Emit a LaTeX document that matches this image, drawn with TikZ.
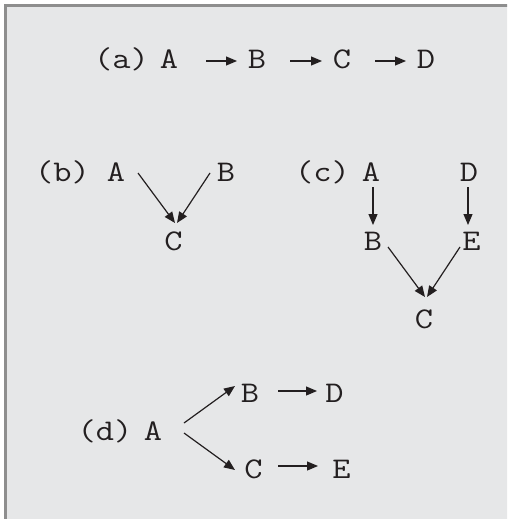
\documentclass[tikz,border=0pt]{standalone}
\usepackage{fontspec}
\setmonofont{Latin Modern Mono}[FakeStretch=1.18]
\usetikzlibrary{arrows.meta}
\definecolor{panelfill}{HTML}{E6E7E8}
\definecolor{panelline}{HTML}{8E8E8E}
\definecolor{ink}{HTML}{231F20}
\tikzset{
  lbl/.style={inner sep=0pt, anchor=base, text=ink, font=\fontsize{30}{30}\selectfont\ttfamily},
  arr/.style={draw=ink, line width=1.2pt, -{Triangle[length=11pt,width=9pt]}},
}
\begin{document}
\begin{tikzpicture}[x=1pt,y=-1pt]
\useasboundingbox (0,0) rectangle (507,519);
\begin{scope}
\clip (0,0) rectangle (507,519);
\draw[fill=panelfill, draw=panelline, line width=3pt] (5.5,5.5) rectangle (520,530);
\end{scope}
% (a)
\node[lbl] (aL) at (121.5,69) {(a)};
\node[lbl] (aA) at (169,69) {A};
\node[lbl] (aB) at (257,69) {B};
\node[lbl] (aC) at (342,69) {C};
\node[lbl] (aD) at (426,69) {D};
\draw[arr] ([shift={(37,-8)}]aA.base) -- ([shift={(-20,-8)}]aB.base);
\draw[arr] ([shift={(33,-8)}]aB.base) -- ([shift={(-20,-8)}]aC.base);
\draw[arr] ([shift={(33,-8)}]aC.base) -- ([shift={(-20,-8)}]aD.base);
% (b)
\node[lbl] (bL) at (62.5,181) {(b)};
\node[lbl] (bA) at (116,181) {A};
\node[lbl] (bB) at (226,181) {B};
\node[lbl] (bC) at (173.5,250) {C};
\draw[arr] ([shift={(22,-8)}]bA.base) -- ([shift={(1.5,-27)}]bC.base);
\draw[arr] ([shift={(-16,-8)}]bB.base) -- ([shift={(3.5,-27)}]bC.base);
% (c)
\node[lbl] (cL) at (322.5,181) {(c)};
\node[lbl] (cA) at (371,181) {A};
\node[lbl] (cD) at (469,181) {D};
\node[lbl] (cB) at (373,250) {B};
\node[lbl] (cE) at (471.5,250) {E};
\node[lbl] (cC) at (424,328) {C};
\draw[arr] ([shift={(2,6)}]cA.base) -- ([shift={(0,-25)}]cB.base);
\draw[arr] ([shift={(-1,6)}]cD.base) -- ([shift={(-3.5,-25)}]cE.base);
\draw[arr] ([shift={(15,-3)}]cB.base) -- ([shift={(1,-31)}]cC.base);
\draw[arr] ([shift={(-11.5,-3)}]cE.base) -- ([shift={(3,-31)}]cC.base);
% (d)
\node[lbl] (dL) at (105,440) {(d)};
\node[lbl] (dA) at (153,440) {A};
\node[lbl] (dB) at (250,402) {B};
\node[lbl] (dD) at (334.5,402) {D};
\node[lbl] (dC) at (253.5,478) {C};
\node[lbl] (dE) at (341.5,478) {E};
\draw[arr] ([shift={(31,-17)}]dA.base) -- ([shift={(-15,-16)}]dB.base);
\draw[arr] ([shift={(31,-7)}]dA.base) -- ([shift={(-18.5,-8)}]dC.base);
\draw[arr] ([shift={(28,-11)}]dB.base) -- ([shift={(-17.5,-11)}]dD.base);
\draw[arr] ([shift={(24.5,-12)}]dC.base) -- ([shift={(-23.5,-12)}]dE.base);
\end{tikzpicture}
\end{document}
